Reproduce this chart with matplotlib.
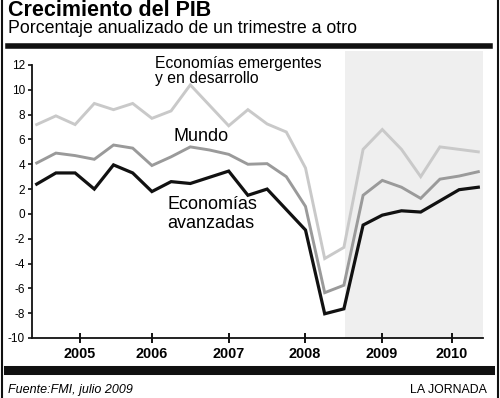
"""Crecimiento del PIB: quarterly annualized GDP growth (FMI, julio 2009)."""

import matplotlib

matplotlib.use("Agg")
import matplotlib.pyplot as plt
from matplotlib.lines import Line2D

# quarters 2005Q1 .. 2010Q4
quarters = list(range(24))

emergentes = [7.2, 7.9, 7.2, 8.9, 8.4, 8.9, 7.7, 8.3, 10.4, 8.75, 7.1, 8.4,
              7.25, 6.6, 3.7, -3.6, -2.7, 5.2, 6.8, 5.2, 3.0, 5.4, 5.2, 5.0]
mundo = [4.1, 4.9, 4.7, 4.4, 5.55, 5.3, 3.9, 4.6, 5.4, 5.15, 4.8, 4.0,
         4.05, 3.0, 0.6, -6.35, -5.75, 1.5, 2.7, 2.15, 1.25, 2.8, 3.05, 3.4]
avanzadas = [2.4, 3.3, 3.3, 2.0, 3.95, 3.3, 1.8, 2.6, 2.45, 2.95, 3.45, 1.5,
             2.0, 0.35, -1.3, -8.05, -7.65, -0.9, -0.1, 0.25, 0.15, 1.05, 1.95, 2.15]

years = ["2005", "2006", "2007", "2008", "2009", "2010"]
year_ticks = [2.25, 6.0, 10.0, 13.97, 17.98, 21.63]
y_ticks = list(range(-10, 13, 2))
projection_start = 16.06

FONT = "Liberation Sans"


def main() -> None:
    plt.rcParams["font.family"] = [FONT, "DejaVu Sans"]
    fig = plt.figure(figsize=(5.0, 3.98), dpi=100)
    ax = fig.add_axes([0.064, 0.1508, 0.902, 0.6859])

    x_lo, x_hi = -0.245, 23.245
    ax.set_xlim(x_lo, x_hi)
    ax.set_ylim(-10, 12)

    # projection band, reaching up under the top rule
    ax.axvspan(projection_start, x_hi, ymin=0, ymax=1.052, color="#efefef",
               lw=0, zorder=0, clip_on=False)

    ax.plot(quarters, emergentes, color="#c9c9c9", lw=2.1, zorder=3,
            solid_joinstyle="miter")
    ax.plot(quarters, mundo, color="#9a9a9a", lw=2.1, zorder=4,
            solid_joinstyle="miter")
    ax.plot(quarters, avanzadas, color="#111111", lw=2.3, zorder=5,
            solid_joinstyle="miter")

    for side in ("top", "right"):
        ax.spines[side].set_visible(False)
    for side in ("left", "bottom"):
        ax.spines[side].set_linewidth(1.3)
        ax.spines[side].set_color("#111111")
    ax.patch.set_visible(False)

    ax.set_yticks(y_ticks)
    ax.set_yticklabels([str(v) for v in y_ticks], fontsize=8.5)
    ax.tick_params(axis="y", direction="out", length=3, width=1.1, pad=2)
    ax.set_xticks(year_ticks)
    ax.set_xticklabels(years, fontsize=10.4, fontweight="bold")
    ax.tick_params(axis="x", direction="inout", length=7, width=1.3, pad=3)

    ax.text(6.16, 11.5, "Economías emergentes\ny en desarrollo", fontsize=11.3,
            ha="left", va="center", linespacing=1.0)
    ax.text(8.56, 6.2, "Mundo", fontsize=13, ha="center", va="center")
    ax.text(6.79, 0.0, "Economías\navanzadas", fontsize=13, ha="left",
            va="center", linespacing=1.2)

    # title block
    fig.text(8 / 500, 1 - 16.5 / 398, "Crecimiento del PIB", fontsize=15.5,
             fontweight="bold", ha="left", va="baseline")
    fig.text(8 / 500, 1 - 33 / 398, "Porcentaje anualizado de un trimestre a otro",
             fontsize=12.8, ha="left", va="baseline")

    # rules and frame
    fig.add_artist(Line2D([8 / 500, 490 / 500], [1 - 45.5 / 398] * 2,
                          color="#111111", lw=4.0, transform=fig.transFigure))
    fig.add_artist(Line2D([8 / 500, 490 / 500], [1 - 369.5 / 398] * 2,
                          color="#111111", lw=6.5, transform=fig.transFigure))
    for xf in (1.5 / 500, 497.5 / 500):
        fig.add_artist(Line2D([xf, xf], [0, 1], color="#111111", lw=1.5,
                              transform=fig.transFigure))

    fig.text(8 / 500, 1 - 390 / 398, "Fuente:FMI, julio 2009", fontsize=9,
             style="italic", ha="left", va="center")
    fig.text(487 / 500, 1 - 390 / 398, "LA JORNADA", fontsize=8.9,
             ha="right", va="center")

    fig.savefig("out.png", dpi=100)
    plt.close(fig)


if __name__ == "__main__":
    main()
